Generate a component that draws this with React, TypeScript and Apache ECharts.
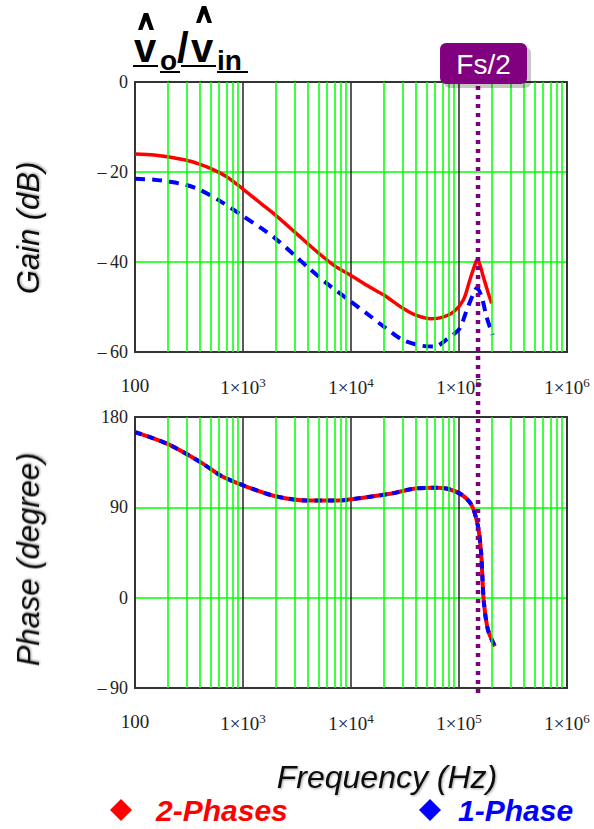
import React, { useEffect, useRef } from "react";
import * as echarts from "echarts";

// Frequency sweep (Hz) and gain (dB)
const gainFreq2 = [100, 150, 200, 300, 400, 500, 700, 1000, 1500, 2000, 3000, 5000, 7000, 10000, 15000, 20000, 30000, 40000, 55000, 70000, 90000, 110000, 126000, 140000, 148000, 158000, 168000, 187000, 201000];
const gain2 = [-16.0, -16.2, -16.6, -17.4, -18.3, -19.2, -21.0, -23.8, -27.2, -29.6, -33.3, -38.0, -40.8, -43.0, -45.6, -47.3, -50.2, -51.8, -52.6, -52.3, -51.0, -48.4, -44.0, -40.7, -39.4, -41.0, -43.3, -47.0, -49.2];

const gainFreq1 = [100, 150, 200, 300, 400, 600, 1000, 1500, 2000, 3000, 4000, 6000, 10000, 15000, 20000, 30000, 45000, 60000, 77000, 90000, 102000, 118000, 136000, 146000, 162000, 180000, 205000];
const gain1 = [-21.5, -21.7, -22.1, -22.9, -24.0, -26.3, -29.8, -32.6, -34.8, -38.5, -41.2, -44.8, -48.8, -52.0, -54.3, -57.3, -58.6, -58.8, -57.2, -56.0, -54.7, -50.7, -47.0, -45.8, -47.7, -52.2, -56.2];

// Phase (degree)
const phaseFreq = [100, 200, 407, 630, 1045, 2000, 4100, 7300, 10600, 23000, 38000, 59000, 78000, 105000, 130000, 149000, 160000, 165000, 170000, 185000, 215000];
const phase2 = [165, 153.2, 134.8, 121.2, 111.2, 101.1, 96.7, 96.7, 98.4, 103.5, 108.5, 109.5, 108.5, 102.8, 92.7, 72.5, 45.6, 18.7, -4.8, -31.7, -48.5];
const phase1 = [165, 153.2, 134.8, 121.2, 111.2, 101.1, 96.7, 96.7, 98.4, 103.5, 108.5, 109.5, 108.5, 102.8, 92.7, 72.5, 45.6, 18.7, -4.8, -31.7, -48.5];

const decades = [100, 1000, 10000, 100000];
const multipliers = [2, 3, 4, 5, 6, 7, 8, 9];
const fsHalf = 150000;

const gainMin = -60, gainMax = 0, gainStep = 20;
const phaseMin = -90, phaseMax = 180, phaseStep = 90;

const serif = "Liberation Serif";
const sans = "Liberation Sans";

const pair = (xs: number[], ys: number[]) => xs.map((x, i) => [x, ys[i]]);

export default function App() {
  const ref = useRef<HTMLDivElement>(null);
  useEffect(() => {
    if (!ref.current) return;
    const chart = echarts.init(ref.current, null, { renderer: "svg" });
    const minorFreqs = decades.flatMap((d) => multipliers.map((m) => m * d));

    const xLabel = {
      show: true,
      margin: 24,
      fontFamily: serif,
      fontSize: 19,
      color: "#222",
      formatter: (v: number) => {
        const e = Math.round(Math.log10(v));
        return e === 2 ? "100" : `1×10{sup|${e}}`;
      },
      rich: {
        sup: { fontSize: 13, fontFamily: serif, color: "#222", verticalAlign: "top", padding: [0, 0, 9, 0] },
      },
    };
    const yLabel = {
      show: true,
      margin: 7,
      fontFamily: serif,
      fontSize: 18,
      color: "#222",
      formatter: (v: number) => (v < 0 ? "–\u2009" + Math.abs(v) : String(v)),
    };
    const border = { show: true, onZero: false, lineStyle: { color: "#333", width: 2 } };
    const nameStyle = {
      fontFamily: sans,
      fontSize: 31,
      fontStyle: "italic",
      color: "#111",
      textShadowColor: "rgba(0,0,0,0.35)",
      textShadowBlur: 2,
      textShadowOffsetX: 1,
      textShadowOffsetY: 1,
    };
    const minorSeries = (idx: number) => ({
      type: "line",
      xAxisIndex: idx,
      yAxisIndex: idx,
      data: [],
      silent: true,
      z: 1,
      markLine: {
        silent: true,
        symbol: ["none", "none"],
        label: { show: false },
        lineStyle: { color: "#00ff00", width: 1.5, type: "solid" },
        data: minorFreqs.map((f) => ({ xAxis: f })),
      },
    });
    const legendText = { fontFamily: sans, fontSize: 30, fontWeight: "bold", fontStyle: "italic", lineHeight: 28 };

    const option: any = {
      animation: false,
      backgroundColor: "#fff",
      grid: [
        { left: 135, top: 82, width: 432, height: 270 },
        { left: 135, top: 417, width: 432, height: 271 },
      ],
      xAxis: [
        {
          type: "log", logBase: 10, min: 100, max: 1000000, gridIndex: 0,
          axisLine: border, axisTick: { show: false }, axisLabel: xLabel,
          splitLine: { show: true, lineStyle: { color: "#222", width: 1.5 } },
        },
        {
          type: "log", logBase: 10, min: 100, max: 1000000, gridIndex: 1,
          axisLine: border, axisTick: { show: false }, axisLabel: xLabel,
          splitLine: { show: true, lineStyle: { color: "#222", width: 1.5 } },
          name: "Frequency (Hz)", nameLocation: "middle", nameGap: 73,
          nameTextStyle: { ...nameStyle, fontSize: 32, padding: [0, 0, 0, 72] },
        },
        { type: "log", logBase: 10, min: 100, max: 1000000, gridIndex: 0, position: "top", axisLine: border, axisTick: { show: false }, axisLabel: { show: false }, splitLine: { show: false } },
        { type: "log", logBase: 10, min: 100, max: 1000000, gridIndex: 1, position: "top", axisLine: border, axisTick: { show: false }, axisLabel: { show: false }, splitLine: { show: false } },
      ],
      yAxis: [
        {
          type: "value", min: gainMin, max: gainMax, interval: gainStep, gridIndex: 0,
          axisLine: border, axisTick: { show: false }, axisLabel: yLabel,
          splitLine: { show: true, lineStyle: { color: "#00ff00", width: 1.5 } },
          name: "Gain (dB)", nameLocation: "middle", nameRotate: 90, nameGap: 91,
          nameTextStyle: { ...nameStyle, padding: [0, 22, 0, 0] },
        },
        {
          type: "value", min: phaseMin, max: phaseMax, interval: phaseStep, gridIndex: 1,
          axisLine: border, axisTick: { show: false }, axisLabel: yLabel,
          splitLine: { show: true, lineStyle: { color: "#00ff00", width: 1.5 } },
          name: "Phase (degree)", nameLocation: "middle", nameRotate: 90, nameGap: 91,
          nameTextStyle: { ...nameStyle, padding: [0, 14, 0, 0] },
        },
        { type: "value", min: gainMin, max: gainMax, interval: gainStep, gridIndex: 0, position: "right", axisLine: border, axisTick: { show: false }, axisLabel: { show: false }, splitLine: { show: false } },
        { type: "value", min: phaseMin, max: phaseMax, interval: phaseStep, gridIndex: 1, position: "right", axisLine: border, axisTick: { show: false }, axisLabel: { show: false }, splitLine: { show: false } },
      ],
      legend: [
        {
          left: 110, top: 795, icon: "diamond", itemWidth: 22, itemHeight: 22, selectedMode: false, padding: 0,
          data: [{ name: "2-Phases", textStyle: { color: "#ff0000" } }],
          textStyle: { ...legendText, padding: [0, 0, 0, 19] },
        },
        {
          left: 419, top: 795, icon: "diamond", itemWidth: 22, itemHeight: 22, selectedMode: false, padding: 0,
          data: [{ name: "1-Phase", textStyle: { color: "#0000ff" } }],
          textStyle: { ...legendText, padding: [0, 0, 0, 12] },
        },
      ],
      series: [
        minorSeries(0),
        minorSeries(1),
        {
          name: "2-Phases", type: "line", xAxisIndex: 0, yAxisIndex: 0, data: pair(gainFreq2, gain2),
          smooth: 0.3, showSymbol: false, z: 3, color: "#ff0000",
          lineStyle: { color: "#ff0000", width: 3.5 },
        },
        {
          name: "1-Phase", type: "line", xAxisIndex: 0, yAxisIndex: 0, data: pair(gainFreq1, gain1),
          smooth: 0.3, showSymbol: false, z: 4, color: "#0000ff",
          lineStyle: { color: "#0000ff", width: 4, type: [10, 7] },
        },
        {
          name: "2-Phases", type: "line", xAxisIndex: 1, yAxisIndex: 1, data: pair(phaseFreq, phase2),
          smooth: 0.3, showSymbol: false, z: 3, color: "#ff0000",
          lineStyle: { color: "#ff0000", width: 4 },
        },
        {
          name: "1-Phase", type: "line", xAxisIndex: 1, yAxisIndex: 1, data: pair(phaseFreq, phase1),
          smooth: 0.3, showSymbol: false, z: 4, color: "#0000ff",
          lineStyle: { color: "#0000ff", width: 4, type: [7, 6] },
        },
      ],
    };
    chart.setOption(option);

    const px = chart.convertToPixel({ xAxisIndex: 0 }, fsHalf) as number;
    const titleFont = (s: number) => `bold ${s}px ${sans}`;
    const hat = (cx: number, top: number) => ({
      type: "polygon",
      shape: {
        points: [
          [cx - 8, top + 17], [cx - 2.2, top], [cx + 2.2, top], [cx + 8, top + 17],
          [cx + 3.6, top + 17], [cx, top + 7.5], [cx - 3.6, top + 17],
        ],
      },
      style: { fill: "#000" },
    });
    const uline = (x1: number, x2: number, y: number) => ({
      type: "line",
      shape: { x1, y1: y, x2, y2: y },
      style: { stroke: "#000", lineWidth: 2 },
    });
    const txt = (text: string, x: number, y: number, size: number) => ({
      type: "text",
      style: { text, x, y, font: titleFont(size), fill: "#000", textVerticalAlign: "middle" },
    });

    chart.setOption({
      graphic: [
        txt("v", 134, 48, 40),
        txt("o", 160, 60, 28),
        txt("/", 177, 47, 42),
        txt("v", 191, 48, 40),
        txt("in", 217, 60, 28),
        hat(146, 13),
        hat(204, 6),
        uline(133, 158, 66),
        uline(160, 180, 72),
        uline(181, 216, 66),
        uline(217, 248, 72),
        {
          type: "line", z: 50,
          shape: { x1: px, y1: 86, x2: px, y2: 697 },
          style: { stroke: "#7f007f", lineWidth: 4.5, lineDash: [4, 5] },
        },
        {
          type: "rect", z: 51,
          shape: { x: px - 34, y: 47, width: 87, height: 41, r: 6 },
          style: { fill: "rgba(0,0,0,0.22)" },
        },
        {
          type: "rect", z: 52,
          shape: { x: px - 38, y: 43, width: 87, height: 41, r: 6 },
          style: { fill: "#800080" },
        },
        {
          type: "text", z: 53,
          style: { text: "Fs/2", x: px + 5.5, y: 64, font: `28px ${sans}`, fill: "#fff", textAlign: "center", textVerticalAlign: "middle" },
        },
      ],
    });

    return () => chart.dispose();
  }, []);

  return (
    <div
      ref={ref}
      style={{ position: "absolute", left: 0, top: 0, width: 594, height: 829, background: "#fff" }}
    />
  );
}
